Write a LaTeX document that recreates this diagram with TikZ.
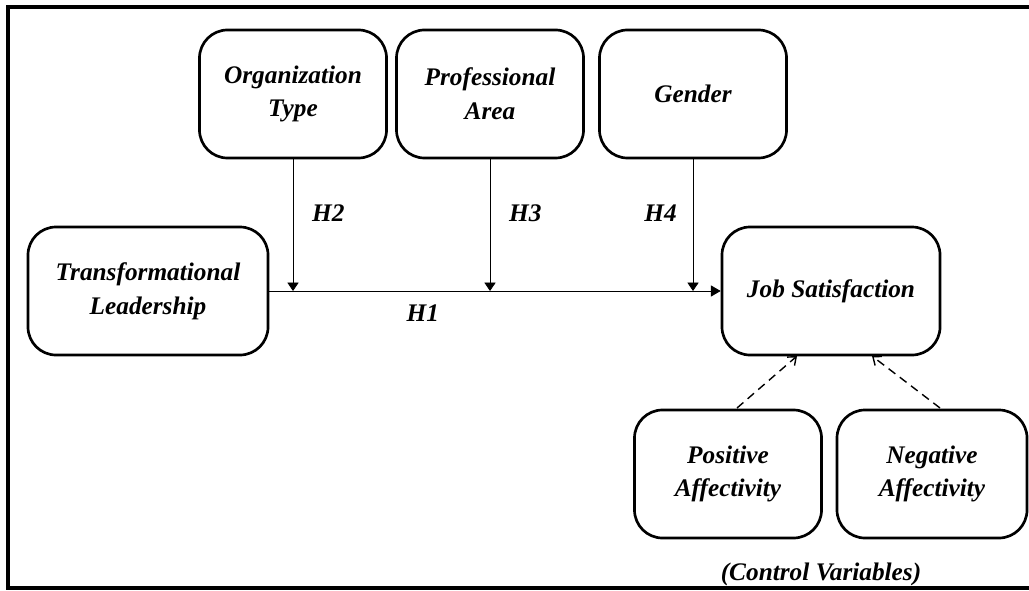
\documentclass[tikz,border=0pt]{standalone}
\usepackage{fontspec}
\setmainfont{Liberation Serif}
\usetikzlibrary{arrows.meta,positioning}

\tikzset{
    varbox/.style={rectangle, draw, line width=1.9pt, rounded corners=20pt, align=center,
        minimum width=4.675cm, minimum height=3.2cm, font=\fontsize{18}{24}\selectfont\bfseries\itshape},
    hlabel/.style={font=\fontsize{18}{24}\selectfont\bfseries\itshape},
    link/.style={line width=0.6pt, -{Triangle[width=8pt,length=6pt]}},
    control/.style={line width=1pt, dash pattern=on 6pt off 4pt, -{Straight Barb[width=8pt,length=5pt]}}
}

\begin{document}
\begin{tikzpicture}[x=0.025cm, y=-0.025cm]
        \useasboundingbox (0, 0) rectangle (1029, 590);
        % frame, open on the right
        \draw[line width=2.4pt] (1029, 7) -- (8, 7) -- (8, 588) -- (1029, 588);

        \node[varbox] (org_type) at (293, 94) {Organization\\Type};
        \node[varbox] (prof_area) at (490, 94) {Professional\\Area};
        \node[varbox] (gender) at (693, 94) {Gender};
        \node[varbox, minimum width=6cm] (trans_lead) at (148, 291) {Transformational\\Leadership};
        \node[varbox, minimum width=5.45cm] (job_sat) at (831, 291) {Job Satisfaction};
        \node[varbox] (pos_aff) at (728, 474) {Positive\\Affectivity};
        \node[varbox, minimum width=4.75cm] (neg_aff) at (932, 474) {Negative\\Affectivity};
        \node[hlabel] (control_vars) at (821, 574) {(Control Variables)};

        \draw[line width=0.6pt, -{Triangle[width=8pt,length=7pt]}] (trans_lead.east) -- node[hlabel, below=6pt, pos=0.34] (h_one) {H1} (job_sat.west);

        \coordinate (on_org) at (org_type.south |- trans_lead.east);
        \coordinate (on_prof) at (prof_area.south |- trans_lead.east);
        \coordinate (on_gender) at (gender.south |- trans_lead.east);
        \draw[link] (org_type.south) -- node[hlabel, right=10pt, pos=0.41] (h_two) {H2} (on_org);
        \draw[link] (prof_area.south) -- node[hlabel, right=10pt, pos=0.41] (h_three) {H3} (on_prof);
        \draw[link] (gender.south) -- node[hlabel, left=8pt, pos=0.41] (h_four) {H4} (on_gender);

        \draw[control] (737, 408) coordinate (pos_top) -- (797, 356) coordinate (js_left);
        \draw[control] (940, 408) coordinate (neg_top) -- (872, 356) coordinate (js_right);
    \end{tikzpicture}
\end{document}
